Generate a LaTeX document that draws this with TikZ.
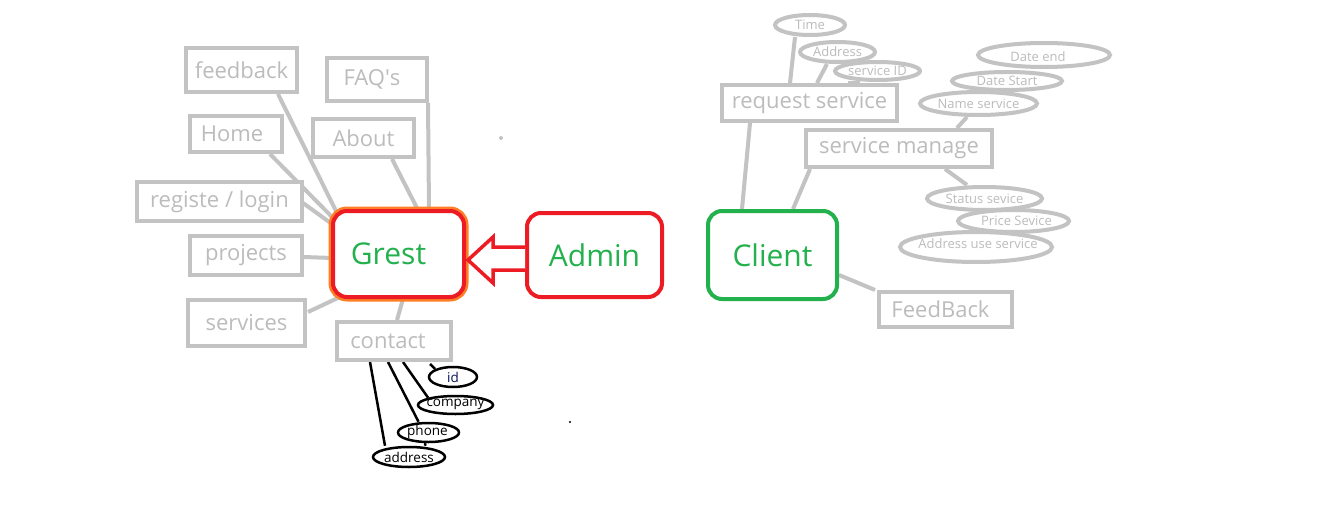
\documentclass[tikz,border=0pt]{standalone}
\usepackage{fontspec}
\setmainfont{Open Sans}
\usetikzlibrary{shapes.geometric,calc,backgrounds}
\definecolor{lgray}{RGB}{195,195,195}
\definecolor{tgray}{RGB}{188,188,188}
\definecolor{pred}{RGB}{237,28,36}
\definecolor{porange}{RGB}{255,127,39}
\definecolor{pgreen}{RGB}{34,177,76}
\definecolor{pnavy}{RGB}{10,20,90}
\begin{document}
\begin{tikzpicture}[x=1pt,y=-1pt,
 gbox/.style={draw=lgray, line width=4pt, fill=white, inner sep=0pt, text=tgray, font=\fontsize{22}{24}\selectfont},
 gell/.style={ellipse, draw=lgray, line width=4pt, fill=white, inner sep=0pt},
 bell/.style={ellipse, draw=black, line width=2.5pt, fill=white, inner sep=0pt},
 gtext/.style={inner sep=0pt, text=tgray, font=\fontsize{13}{15}\selectfont},
 btext/.style={inner sep=0pt, text=black, font=\fontsize{13.5}{15}\selectfont},
 gline/.style={draw=lgray, line width=4pt},
 bline/.style={draw=black, line width=2.5pt},
 mainbox/.style={rounded corners=14pt, line width=4pt, fill=white, inner sep=0pt, text=pgreen, font=\fontsize{30}{32}\selectfont},
]
\useasboundingbox (0,0) rectangle (1343,516);

% left boxes
\node[gbox, minimum width=111pt, minimum height=44pt] (feedback) at (241.5,70) {feedback};
\node[gbox, minimum width=100pt, minimum height=43pt] (faq) at (377,79.5) {FAQ\textquotesingle s\kern10pt};
\node[gbox, minimum width=92pt, minimum height=36pt] (home) at (236,134) {Home\kern8pt};
\node[gbox, minimum width=101pt, minimum height=38pt] (about) at (363.5,138) {About};
\node[gbox, minimum width=165pt, minimum height=39pt] (reg) at (219.5,201.5) {registe / login};
\node[gbox, minimum width=112pt, minimum height=39pt] (projects) at (246,255.5) {projects};
\node[gbox, minimum width=117pt, minimum height=46pt] (services) at (246.5,323) {services};
\node[gbox, minimum width=114pt, minimum height=38pt] (contact) at (394,341) {contact\kern12pt};

% main boxes
\node[mainbox, draw=pred, preaction={draw=porange, line width=9pt}, minimum width=131pt, minimum height=86pt] (grest) at (398.5,254) {Grest\kern20pt};
\node[mainbox, draw=pred, minimum width=135pt, minimum height=84pt] (admin) at (594.5,255) {Admin};
\node[mainbox, draw=pgreen, minimum width=129pt, minimum height=88pt] (client) at (772.5,255) {Client};

% right boxes
\node[gbox, minimum width=133pt, minimum height=35pt] (fb) at (945.5,309.5) {FeedBack\kern10pt};
\node[gbox, minimum width=175pt, minimum height=36pt] (req) at (809.5,103) {request service};
\node[gbox, minimum width=186pt, minimum height=37pt] (sm) at (899,148.5) {service manage};

% gray ellipses
\node[gell, minimum width=70pt, minimum height=20pt] (time) at (810,25) {};
\node[gtext] at (time) {Time};
\node[gell, minimum width=75pt, minimum height=20pt] (addr) at (837.5,52) {};
\node[gtext] at (addr) {Address};
\node[gell, minimum width=85pt, minimum height=18pt] (sid) at (877.5,71) {};
\node[gtext] at (sid) {service ID};
\node[gell, minimum width=132pt, minimum height=24pt] (dend) at (1044,55) {};
\node[gtext] at ($(dend)+(-6,2)$) {Date end};
\node[gell, minimum width=110pt, minimum height=18pt] (dstart) at (1007,81) {};
\node[gtext] at (dstart) {Date Start};
\node[gell, minimum width=117pt, minimum height=23pt] (name) at (978.5,103.5) {};
\node[gtext] at (name) {Name service};
\node[gell, minimum width=115pt, minimum height=23pt] (status) at (984.5,198.5) {};
\node[gtext] at (status) {Status sevice};
\node[gell, minimum width=111pt, minimum height=22pt] (price) at (1013.5,221) {};
\node[gtext] at ($(price)+(3,0)$) {Price Sevice};
\node[gell, minimum width=152pt, minimum height=30pt] (ause) at (976,247) {};
\node[gtext] at ($(ause)+(2,-3)$) {Address use service};

% black ellipses
\node[bell, minimum width=48pt, minimum height=20pt] (id) at (453,377) {};
\node[btext, text=pnavy] at (id) {id};
\node[bell, minimum width=75pt, minimum height=18pt] (company) at (455.5,405) {};
\node[btext] at ($(company)+(0,-1)$) {company};
\node[bell, minimum width=61pt, minimum height=19pt] (phone) at (428.5,432.5) {};
\node[btext] at ($(phone)+(-1,-1)$) {phone};
\node[bell, minimum width=72pt, minimum height=20pt] (address) at (409,457) {};
\node[btext] at (address) {address};

% hollow arrow Admin -> Grest
\draw[pred, line width=3.5pt, line join=miter, fill=white]
  ($(admin.west)+(0,-8)$) -- ($(admin.west)+(-32,-8)$) -- ($(admin.west)+(-32,-18)$)
  -- ($(grest.east)+(2,6)$) -- ($(admin.west)+(-32,28)$) -- ($(admin.west)+(-32,15)$)
  -- ($(admin.west)+(0,15)$);

% stray dots
\fill[lgray] (501,138) circle (2pt);
\fill[black] (570,422) circle (1.2pt);

\begin{pgfonlayer}{background}
\fill[white] (0,0) rectangle (1343,516);
% left connectors
\draw[gline] ($(feedback.south)+(36.5,0)$) -- ($(grest.north west)+(6,4)$);
\draw[gline] ($(home.south)+(34,0)$) -- ($(grest.north west)+(3,10)$);
\draw[gline] ($(reg.east)+(-1,1.5)$) -- ($(grest.north west)+(1,15)$);
\draw[gline] ($(projects.east)+(0,1.5)$) -- ($(grest.west)+(1,4)$);
\draw[gline] ($(services.east)+(1,-11)$) -- ($(grest.south west)+(11,-3)$);
\draw[gline] ($(about.south)+(28.5,0)$) -- ($(grest.north)+(19.5,1)$);
\draw[gline] ($(faq.south east)+(-1,0)$) -- ($(grest.north)+(30.5,1)$);
\draw[gline] ($(grest.south)+(4.5,0)$) -- ($(contact.north)+(3,0)$);
% contact attributes
\draw[bline] ($(contact.south)+(36,2)$) -- (id.north west);
\draw[bline] ($(contact.south)+(9,0)$) -- (company.north west);
\draw[bline] ($(contact.south)+(-6,0)$) -- ($(phone.north)+(-10,0)$);
\draw[bline] ($(contact.south)+(-24,0)$) -- ($(address.north)+(-24,0)$);
\draw[bline] ($(phone.south)+(-3,0)$) -- ($(address.north)+(16,0)$);
% right connectors
\draw[gline] ($(req.south)+(-59.5,0)$) -- ($(client.north)+(-30.5,0)$);
\draw[gline] ($(sm.south)+(-89,0)$) -- ($(client.north)+(20.5,0)$);
\draw[gline] ($(time.south)+(-15,0)$) -- ($(req.north)+(-19.5,0)$);
\draw[gline] ($(addr.south)+(-10.5,0)$) -- ($(req.north)+(7.5,0)$);
\draw[gline] ($(sid.south)+(-17.5,1)$) -- ($(req.north)+(38.5,0)$);
\draw[gline] ($(name.south)+(-11.5,0)$) -- ($(sm.north)+(58,0)$);
\draw[gline] ($(sm.south)+(46,0)$) -- ($(status.north)+(-17.5,0)$);
\draw[gline] ($(client.east)+(0,20)$) -- ($(fb.north west)+(-2,0)$);
\end{pgfonlayer}
\end{tikzpicture}
\end{document}
